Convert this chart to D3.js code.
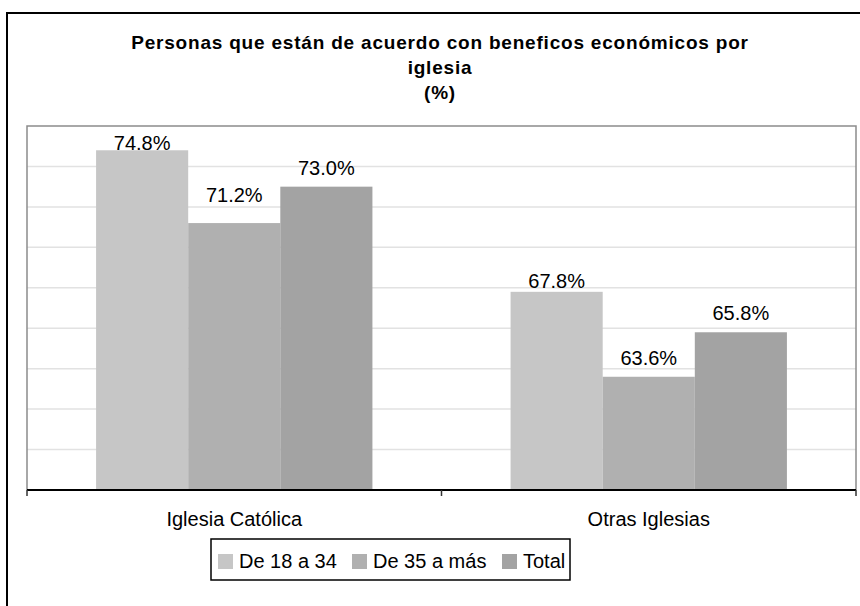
<!DOCTYPE html>
<html>
<head>
<meta charset="utf-8">
<script src="https://cdn.jsdelivr.net/npm/d3@7"></script>
<style>
  body { margin: 0; background: #fff; }
  text { font-family: "Liberation Sans", Arial, sans-serif; fill: #000; }
</style>
</head>
<body>
<svg id="chart" width="860" height="606"></svg>
<script>
// data
var categories = ['Iglesia Católica', 'Otras Iglesias'];
var series = ['De 18 a 34', 'De 35 a más', 'Total'];
var values18a34 = [74.8, 67.8];
var values35aMas = [71.2, 63.6];
var valuesTotal = [73.0, 65.8];
var gridValues = [60, 62, 64, 66, 68, 70, 72, 74];
var titleLines = ['Personas que están de acuerdo con beneficos económicos por', 'iglesia', '(%)'];

var colors = ['#c6c6c6', '#b0b0b0', '#a3a3a3'];

// labels were hand-moved in the original, small pixel nudges
var labelNudge = { '0-0': 12, '0-1': -9, '1-0': 8 };

var seriesValues = [values18a34, values35aMas, valuesTotal];
var rows = [];
categories.forEach(function(c, ci){
  series.forEach(function(s, si){
    rows.push({ cat: c, ci: ci, ser: s, si: si, value: seriesValues[si][ci] });
  });
});

var svg = d3.select('#chart');

var plot = { left: 27, top: 126, right: 856, bottom: 490 };

// outer chart frame (runs off the page on right and bottom)
svg.append('rect')
  .attr('x', 7).attr('y', 13)
  .attr('width', 900).attr('height', 700)
  .attr('fill', 'none')
  .attr('stroke', '#000')
  .attr('stroke-width', 2);

// title
var title = svg.append('text')
  .attr('text-anchor', 'middle')
  .style('font-weight', 'bold')
  .style('font-size', '19px')
  .style('letter-spacing', '0.8px');
title.selectAll('tspan')
  .data(titleLines)
  .enter().append('tspan')
  .attr('x', 440)
  .attr('y', function(d, i){ return 49 + i * 25; })
  .text(function(d){ return d; });

var y = d3.scaleLinear()
  .domain([58, 76])
  .range([plot.bottom, plot.top]);

var x0 = d3.scaleBand()
  .domain(categories)
  .range([plot.left, plot.right])
  .padding(0);

var x1 = d3.scaleBand()
  .domain(series)
  .range([0, x0.bandwidth()])
  .paddingInner(0)
  .paddingOuter(0.75);

var color = d3.scaleOrdinal().domain(series).range(colors);

// gridlines
svg.append('g')
  .selectAll('line')
  .data(gridValues)
  .enter().append('line')
  .attr('x1', plot.left).attr('x2', plot.right)
  .attr('y1', function(d){ return y(d); })
  .attr('y2', function(d){ return y(d); })
  .attr('stroke', '#e2e2e2')
  .attr('stroke-width', 1.5);

// plot border (top, right, left)
svg.append('path')
  .attr('d', 'M' + plot.left + ',' + plot.bottom + 'V' + plot.top + 'H' + plot.right + 'V' + plot.bottom)
  .attr('fill', 'none')
  .attr('stroke', '#8c8c8c')
  .attr('stroke-width', 1.5);

// bars
svg.append('g')
  .selectAll('rect')
  .data(rows)
  .enter().append('rect')
  .attr('x', function(d){ return x0(d.cat) + x1(d.ser); })
  .attr('y', function(d){ return y(d.value); })
  .attr('width', x1.bandwidth())
  .attr('height', function(d){ return plot.bottom - y(d.value); })
  .attr('fill', function(d){ return color(d.ser); });

// value labels
svg.append('g')
  .selectAll('text')
  .data(rows)
  .enter().append('text')
  .attr('text-anchor', 'middle')
  .style('font-size', '20px')
  .attr('x', function(d){ return x0(d.cat) + x1(d.ser) + x1.bandwidth() / 2; })
  .attr('y', function(d){ return y(d.value) - 12 + (labelNudge[d.ci + '-' + d.si] || 0); })
  .text(function(d){ return d.value.toFixed(1) + '%'; });

// x axis
var xAxis = svg.append('g')
  .attr('transform', 'translate(0,' + plot.bottom + ')');
xAxis.append('line')
  .attr('x1', plot.left).attr('x2', plot.right)
  .attr('stroke', '#000').attr('stroke-width', 2);
xAxis.selectAll('.tick')
  .data([plot.left, x0(categories[1]), plot.right])
  .enter().append('line')
  .attr('class', 'tick')
  .attr('x1', function(d){ return d; }).attr('x2', function(d){ return d; })
  .attr('y1', 0).attr('y2', 6)
  .attr('stroke', '#333').attr('stroke-width', 1.5);
xAxis.selectAll('text')
  .data(categories)
  .enter().append('text')
  .attr('text-anchor', 'middle')
  .style('font-size', '20px')
  .attr('x', function(d){ return x0(d) + x0.bandwidth() / 2; })
  .attr('y', 36)
  .text(function(d){ return d; });

// legend
var legend = svg.append('g').attr('transform', 'translate(211,539)');
legend.append('rect')
  .attr('width', 359).attr('height', 41)
  .attr('fill', '#fff')
  .attr('stroke', '#000')
  .attr('stroke-width', 1.5);
var legendX = [7, 141, 291];
var item = legend.selectAll('g.item')
  .data(series)
  .enter().append('g')
  .attr('class', 'item')
  .attr('transform', function(d, i){ return 'translate(' + legendX[i] + ',0)'; });
item.append('rect')
  .attr('y', 15)
  .attr('width', 15).attr('height', 15)
  .attr('fill', function(d){ return color(d); });
item.append('text')
  .attr('x', 21)
  .attr('y', 29)
  .style('font-size', '20px')
  .text(function(d){ return d; });
</script>
</body>
</html>
